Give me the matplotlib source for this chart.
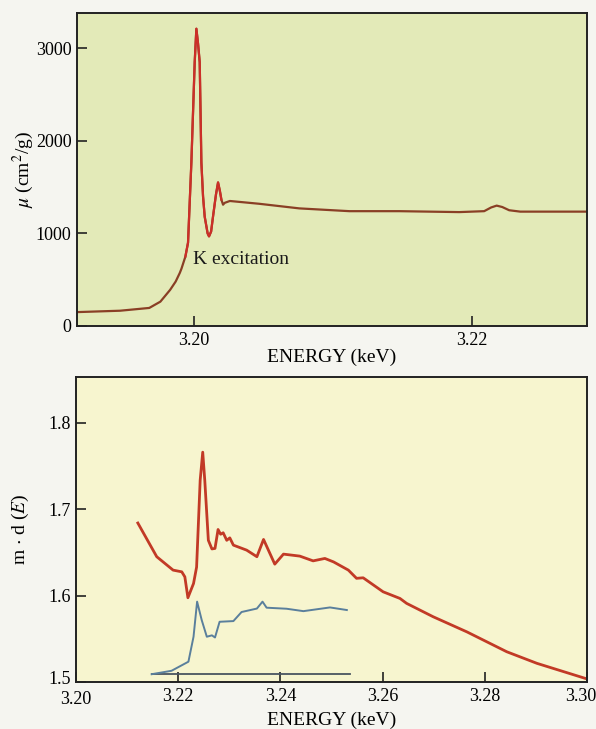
import numpy as np
import matplotlib
matplotlib.use("Agg")
import matplotlib.pyplot as plt
from matplotlib.transforms import ScaledTranslation

plt.rcParams['font.family'] = ['Liberation Serif', 'DejaVu Serif']
plt.rcParams['mathtext.fontset'] = 'stix'

# ---- Top panel: absorption coefficient mu (cm^2/g) vs energy (keV)
top_energy = [3.1916, 3.1947, 3.1968, 3.1976, 3.1983, 3.1987, 3.1990, 3.19912, 3.1994,
              3.19959, 3.19983, 3.20007, 3.20019, 3.20031, 3.20043, 3.20055, 3.20067,
              3.20079, 3.2010, 3.2011, 3.20125, 3.20139, 3.2016, 3.20175, 3.20188,
              3.20199, 3.20211, 3.20223, 3.2026, 3.2047, 3.2076,
              3.2112, 3.2148, 3.2191, 3.2209, 3.2214, 3.2218, 3.2222, 3.2227, 3.2235, 3.2283]
top_mu = [150, 165, 195, 263, 390, 480, 574, 620, 750,
          900, 1766, 2850, 3210, 3050, 2850, 1766, 1400,
          1180, 1000, 968, 1020, 1184, 1420, 1550, 1460,
          1365, 1310, 1330, 1350, 1320, 1270,
          1240, 1240, 1230, 1240, 1280, 1300, 1285, 1250, 1235, 1235]
top_xticks = [3.20, 3.22]
top_xticklabels = ["3.20", "3.22"]
top_yticks = [0, 1000, 2000, 3000]

# ---- Bottom panel: m·d(E) vs energy (keV)
red_energy = [3.2121, 3.2158, 3.2190, 3.2207, 3.2213, 3.2219, 3.2230, 3.2236, 3.2243,
              3.2248, 3.2252, 3.2259, 3.2266, 3.2272, 3.2278, 3.2283, 3.2288, 3.2295,
              3.2301, 3.2308, 3.2334, 3.2354, 3.2367, 3.2389, 3.2406, 3.2438, 3.2464,
              3.2487, 3.2504, 3.2533, 3.2549, 3.2562, 3.2601, 3.2634, 3.2647, 3.2699,
              3.2765, 3.2843, 3.2902, 3.2996]
red_md = [1.684, 1.645, 1.6295, 1.6275, 1.6217, 1.5975, 1.614, 1.633, 1.7335,
          1.766, 1.7335, 1.664, 1.654, 1.6546, 1.6765, 1.671, 1.6727, 1.664,
          1.6668, 1.6584, 1.6526, 1.645, 1.665, 1.6364, 1.648, 1.6457, 1.6402,
          1.643, 1.639, 1.6295, 1.620, 1.6206, 1.6044, 1.5967, 1.591, 1.5755,
          1.558, 1.535, 1.5216, 1.5043]
blue_energy = [3.2148, 3.2187, 3.2220, 3.2230, 3.2237, 3.2246, 3.2256, 3.2266, 3.2272,
               3.2281, 3.2308, 3.2324, 3.2354, 3.2365, 3.2373, 3.2412, 3.2445, 3.2497, 3.2530]
blue_md = [1.509, 1.513, 1.5235, 1.5524, 1.593, 1.5717, 1.5524, 1.554, 1.5515,
           1.5697, 1.5705, 1.581, 1.585, 1.593, 1.586, 1.5848, 1.582, 1.5863, 1.5833]
base_energy = [3.2148, 3.2536]
base_md = [1.5098, 1.5098]
bot_xticks = [3.20, 3.22, 3.24, 3.26, 3.28, 3.30]
bot_xticklabels = ["3.20", "3.22", "3.24", "3.26", "3.28", "3.30"]
bot_yticks = [1.5, 1.6, 1.7, 1.8]
bot_yticklabels = ["1.5", "1.6", "1.7", "1.8"]

W, H = 596, 729
fig = plt.figure(figsize=(W / 100, H / 100), dpi=100, facecolor='#f5f5f0')

def box(l, t, r, b):
    return [l / W, 1 - b / H, (r - l) / W, (b - t) / H]

ax1 = fig.add_axes(box(77, 13, 587, 326), facecolor='#e3eab8')
ax2 = fig.add_axes(box(76, 377, 587, 682), facecolor='#f7f5cf')

# top curve
te = np.array(top_energy)
tm = np.array(top_mu)
ax1.plot(te, tm, color='#8a3f25', lw=1.6, solid_capstyle='round')
steep = (te >= 3.1994) & (te <= 3.2021)
ax1.plot(te[steep], tm[steep], color='#cc2f28', lw=1.6)
ax1.set_xlim(3.1916, 3.2283)
ax1.set_ylim(0, 3380)
ax1.set_xticks(top_xticks)
ax1.set_xticklabels(top_xticklabels)
ax1.set_yticks(top_yticks)
ax1.set_yticklabels([str(v) for v in top_yticks])
ax1.set_xlabel("ENERGY (keV)", fontsize=14, labelpad=0)
ax1.set_ylabel(r"$\mu$ (cm$^2$/g)", fontsize=14, labelpad=0)
ax1.text(3.19995, 720, "K excitation", fontsize=14, ha='left', va='center', color='#1a1a1a')

# bottom curves
ax2.plot(base_energy, base_md, color='#4a5560', lw=1.3)
ax2.plot(blue_energy, blue_md, color='#5a7f9c', lw=1.4)
ax2.plot(red_energy, red_md, color='#c23a26', lw=2.0)
ax2.set_xlim(3.20, 3.30)
ax2.set_ylim(1.5, 1.853)
ax2.set_xticks(bot_xticks)
ax2.set_xticklabels(bot_xticklabels)
ax2.set_yticks(bot_yticks)
ax2.set_yticklabels(bot_yticklabels)
ax2.set_xlabel("ENERGY (keV)", fontsize=14, labelpad=3)
ax2.set_ylabel(r"m $\cdot$ d ($E$)", fontsize=14, labelpad=12)

for ax in (ax1, ax2):
    ax.tick_params(direction='in', length=7, width=1.2, labelsize=13, color='#222222',
                   top=False, right=False, pad=4)
    for s in ax.spines.values():
        s.set_linewidth(1.4)
        s.set_color('#222222')

# nudge crowded corner labels like the reference
ylabs = ax2.get_yticklabels()
ylabs[0].set_transform(ylabs[0].get_transform() + ScaledTranslation(0, 4 / 100, fig.dpi_scale_trans))
xlabs = ax2.get_xticklabels()
xlabs[-1].set_transform(xlabs[-1].get_transform() + ScaledTranslation(-6 / 100, 0, fig.dpi_scale_trans))
xlabs[0].set_transform(xlabs[0].get_transform() + ScaledTranslation(0, -3 / 100, fig.dpi_scale_trans))

fig.savefig("out.png", dpi=100, facecolor=fig.get_facecolor())
